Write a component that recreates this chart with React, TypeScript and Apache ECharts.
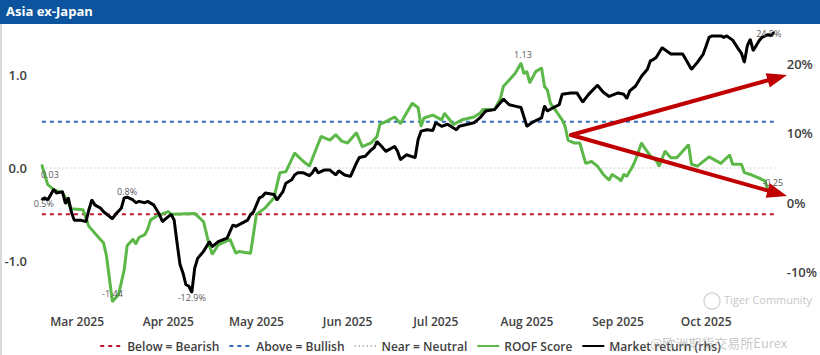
import React, { useEffect, useRef } from 'react';
import * as echarts from 'echarts';

// ---------- DATA ----------
const roofDates = [
  '2025-02-17','2025-02-19','2025-02-21','2025-02-24','2025-02-25','2025-02-27',
  '2025-03-03','2025-03-04','2025-03-05','2025-03-08','2025-03-10','2025-03-11','2025-03-12','2025-03-13','2025-03-15','2025-03-16','2025-03-17','2025-03-18','2025-03-20','2025-03-21','2025-03-22','2025-03-24','2025-03-25','2025-03-26','2025-03-28',
  '2025-04-01','2025-04-02','2025-04-10','2025-04-11','2025-04-13','2025-04-15','2025-04-16','2025-04-18','2025-04-22','2025-04-24','2025-04-25','2025-04-29',
  '2025-05-01','2025-05-04','2025-05-07','2025-05-08','2025-05-09','2025-05-11','2025-05-14','2025-05-17','2025-05-19','2025-05-23','2025-05-26','2025-05-28','2025-05-30',
  '2025-06-01','2025-06-04','2025-06-06','2025-06-09','2025-06-11','2025-06-12','2025-06-14','2025-06-17','2025-06-19','2025-06-23','2025-06-25','2025-06-26','2025-06-27','2025-06-30',
  '2025-07-03','2025-07-04','2025-07-07','2025-07-10','2025-07-14','2025-07-16','2025-07-17','2025-07-21','2025-07-23','2025-07-24','2025-07-26','2025-07-28','2025-07-30','2025-07-31',
  '2025-08-01','2025-08-02','2025-08-04','2025-08-06','2025-08-07','2025-08-08','2025-08-09','2025-08-11','2025-08-13','2025-08-14','2025-08-15','2025-08-17','2025-08-19','2025-08-20','2025-08-21','2025-08-23','2025-08-25','2025-08-27','2025-08-29','2025-08-30',
  '2025-09-01','2025-09-02','2025-09-03','2025-09-04','2025-09-06','2025-09-07','2025-09-09','2025-09-10','2025-09-12','2025-09-14','2025-09-15','2025-09-17','2025-09-19','2025-09-21','2025-09-25','2025-09-26','2025-09-28',
  '2025-10-02','2025-10-06','2025-10-09','2025-10-10','2025-10-13','2025-10-14','2025-10-16','2025-10-19','2025-10-21','2025-10-22','2025-10-24',
];
const roofValues = [
  0.03, -0.18, -0.23, -0.27, -0.32, -0.44,
  -0.45, -0.54, -0.63, -0.74, -0.81, -0.95, -1.2, -1.44, -1.37, -1.24, -1.1, -0.84, -0.77, -0.82, -0.75, -0.72, -0.66, -0.56, -0.52,
  -0.47, -0.5, -0.49, -0.52, -0.58, -0.84, -0.93, -0.83, -0.77, -0.92, -0.9, -0.92,
  -0.5, -0.43, -0.32, -0.18, -0.05, -0.04, 0.16, 0.07, 0.02, 0.34, 0.3, 0.36, 0.29,
  0.27, 0.38, 0.23, 0.27, 0.34, 0.47, 0.5, 0.55, 0.48, 0.7, 0.65, 0.45, 0.54, 0.57,
  0.52, 0.59, 0.47, 0.52, 0.55, 0.59, 0.63, 0.63, 0.75, 0.88, 0.95, 1.02, 1.13, 1.02,
  1.04, 0.92, 1.04, 1.08, 0.88, 0.84, 0.7, 0.61, 0.52, 0.45, 0.3, 0.27, 0.27, 0.16, 0.05, 0.07, 0.02, -0.07, -0.13, -0.07,
  -0.11, -0.14, -0.07, -0.09, 0.02, 0.09, 0.27, 0.22, 0.13, 0.08, 0.02, 0.18, 0.11, 0.11, 0.25, 0.04, 0.02,
  0.12, 0.05, 0.14, 0.04, 0.04, -0.05, -0.07, -0.11, -0.14, -0.24, -0.25,
];

const marketDates = [
  '2025-02-17','2025-02-18','2025-02-19','2025-02-21','2025-02-22','2025-02-24','2025-02-25','2025-02-26','2025-02-27','2025-02-28',
  '2025-03-02','2025-03-04','2025-03-05','2025-03-06','2025-03-07','2025-03-09','2025-03-10','2025-03-13','2025-03-14','2025-03-16','2025-03-17','2025-03-18','2025-03-20','2025-03-21','2025-03-22','2025-03-24','2025-03-25','2025-03-27','2025-03-29','2025-03-30',
  '2025-04-01','2025-04-02','2025-04-03','2025-04-04','2025-04-05','2025-04-06','2025-04-07','2025-04-08','2025-04-09','2025-04-10','2025-04-11','2025-04-13','2025-04-15','2025-04-16','2025-04-18','2025-04-21','2025-04-23','2025-04-24','2025-04-28','2025-04-29','2025-04-30',
  '2025-05-02','2025-05-03','2025-05-04','2025-05-07','2025-05-08','2025-05-10','2025-05-11','2025-05-13','2025-05-14','2025-05-15','2025-05-17','2025-05-19','2025-05-20','2025-05-21','2025-05-22','2025-05-24','2025-05-26','2025-05-28','2025-05-29','2025-05-31',
  '2025-06-02','2025-06-04','2025-06-05','2025-06-07','2025-06-09','2025-06-10','2025-06-11','2025-06-13','2025-06-14','2025-06-17','2025-06-18','2025-06-19','2025-06-21','2025-06-24','2025-06-25','2025-06-26','2025-06-28','2025-06-30',
  '2025-07-01','2025-07-03','2025-07-05','2025-07-08','2025-07-09','2025-07-14','2025-07-16','2025-07-18','2025-07-21','2025-07-22','2025-07-24','2025-07-26','2025-07-28','2025-07-30',
  '2025-08-01','2025-08-03','2025-08-06','2025-08-07','2025-08-08','2025-08-10','2025-08-12','2025-08-13','2025-08-16','2025-08-18','2025-08-20','2025-08-22','2025-08-25','2025-08-27','2025-08-29',
  '2025-09-01','2025-09-03','2025-09-04','2025-09-05','2025-09-07','2025-09-09','2025-09-11','2025-09-12','2025-09-13','2025-09-14','2025-09-16','2025-09-19','2025-09-23','2025-09-26','2025-09-28','2025-09-30',
  '2025-10-01','2025-10-02','2025-10-03','2025-10-06','2025-10-07','2025-10-08','2025-10-10','2025-10-12','2025-10-13','2025-10-14','2025-10-15','2025-10-16','2025-10-17','2025-10-18','2025-10-19','2025-10-20','2025-10-22','2025-10-23','2025-10-24',
];
const marketValues = [
  0.5, 0.7, 0.4, 1.9, 1.4, 1.6, -0.1, 0.7, -1.3, -2.5,
  -2.5, -2.7, -1.0, 0.4, -0.3, -0.8, -1.3, -2.3, -1.7, -0.8, 0.7, 0.8, 0.4, 0.0, 0.2, 0.0, 0.2, -0.3, -1.7, -2.7,
  -2.0, -1.7, -2.5, -5.8, -8.9, -10.1, -11.8, -12.0, -12.9, -9.4, -8.0, -7.0, -5.6, -6.3, -5.6, -5.1, -3.2, -3.4, -2.5, -1.7, -1.3,
  0.7, 0.9, 1.4, 1.2, 0.4, 1.6, 2.8, 3.3, 4.0, 4.3, 4.3, 3.9, 4.3, 5.0, 4.3, 4.7, 4.7, 4.0, 4.6, 4.0,
  3.8, 5.7, 6.5, 6.7, 7.6, 7.9, 8.8, 7.9, 7.4, 8.1, 7.4, 6.2, 6.9, 6.5, 9.1, 10.3, 10.5, 10.4,
  11.5, 11.0, 11.3, 10.5, 11.0, 11.5, 12.2, 13.2, 13.4, 13.9, 14.9, 14.1, 13.9, 13.7,
  11.0, 11.6, 12.2, 13.9, 13.2, 13.7, 14.1, 15.6, 15.8, 15.8, 14.5, 15.6, 16.9, 15.9, 15.3,
  15.8, 15.6, 15.0, 16.1, 16.8, 18.2, 19.2, 20.4, 20.6, 20.9, 22.3, 21.4, 21.4, 19.2, 20.2, 21.4,
  22.6, 23.8, 24.0, 24.0, 23.8, 24.0, 23.4, 22.1, 21.5, 20.2, 22.6, 23.5, 21.9, 22.6, 23.3, 23.8, 24.2, 24.0, 24.5,
];

const refDates = ['2025-02-17', '2025-10-24'];
const bearishLevel = -0.5;
const bullishLevel = 0.5;
const neutralLevel = 0;

const seriesNames = ['Below = Bearish', 'Above = Bullish', 'Near = Neutral', 'ROOF Score', 'Market return (rhs)'];
const monthNames = ['Jan', 'Feb', 'Mar', 'Apr', 'May', 'Jun', 'Jul', 'Aug', 'Sep', 'Oct', 'Nov', 'Dec'];

const roofLabels = [
  { date: '2025-02-17', text: '0.03' },
  { date: '2025-03-13', text: '-1.44' },
  { date: '2025-07-30', text: '1.13' },
  { date: '2025-10-24', text: '-0.25' },
];
const marketLabels = [
  { date: '2025-02-17', text: '0.5%' },
  { date: '2025-03-18', text: '0.8%' },
  { date: '2025-04-09', text: '-12.9%' },
  { date: '2025-10-24', text: '24.5%' },
];

// ---------- STYLE ----------
const FONT = "'Open Sans', 'Noto Sans', sans-serif";
const labelPlacement: Record<string, any> = {
  '0.03': { position: 'bottom', distance: 4, offset: [8, 0] },
  '-1.44': { position: 'top', distance: 2, offset: [0, 0] },
  '1.13': { position: 'top', distance: 3, offset: [2, 0] },
  '-0.25': { position: 'top', distance: 3, offset: [-1, 0] },
  '0.5%': { position: 'inside', offset: [2, 4] },
  '0.8%': { position: 'top', distance: 0, offset: [0, 0] },
  '-12.9%': { position: 'inside', offset: [0, 5] },
  '24.5%': { position: 'inside', offset: [-5, 1] },
};

function buildData(dates: string[], values: number[], labels: { date: string; text: string }[]) {
  return dates.map((d, i) => {
    const lab = labels.find((l) => l.date === d);
    const item: any = { value: [d, values[i]] };
    if (lab) {
      const p = labelPlacement[lab.text] || {};
      item.label = {
        show: true,
        formatter: lab.text,
        fontSize: 9,
        color: '#595959',
        fontFamily: FONT,
        ...p,
      };
    }
    return item;
  });
}

function arrow(x1: number, y1: number, x2: number, y2: number, color: string) {
  const dx = x2 - x1;
  const dy = y2 - y1;
  const len = Math.sqrt(dx * dx + dy * dy);
  const ux = dx / len;
  const uy = dy / len;
  const headLen = 20;
  const headHalf = 7.5;
  const bx = x2 - ux * headLen;
  const by = y2 - uy * headLen;
  const nx = -uy;
  const ny = ux;
  return [
    {
      type: 'line',
      z: 100,
      shape: { x1, y1, x2: bx + ux * 2, y2: by + uy * 2 },
      style: { stroke: color, lineWidth: 4, lineCap: 'round' },
    },
    {
      type: 'polygon',
      z: 100,
      shape: {
        points: [
          [x2, y2],
          [bx + nx * headHalf, by + ny * headHalf],
          [bx - nx * headHalf, by - ny * headHalf],
        ],
      },
      style: { fill: color },
    },
  ];
}

export default function App() {
  const ref = useRef<HTMLDivElement>(null);

  useEffect(() => {
    if (!ref.current) return;
    const chart = echarts.init(ref.current, undefined, { renderer: 'svg' });

    const refLine = (name: string, level: number, color: string, width: number, dash: any) => ({
      name,
      type: 'line',
      yAxisIndex: 0,
      symbol: 'none',
      silent: true,
      z: 1,
      lineStyle: { color, width, type: dash },
      itemStyle: { color },
      data: refDates.map((d) => [d, level]),
    });

    const dataLine = (name: string, axis: number, color: string, z: number, data: any[]) => ({
      name,
      type: 'line',
      yAxisIndex: axis,
      symbol: 'circle',
      symbolSize: 2,
      showSymbol: true,
      showAllSymbol: true,
      z,
      lineStyle: { color, width: 3 },
      itemStyle: { color },
      label: { show: false },
      data,
    });

    const option: any = {
      animation: false,
      backgroundColor: '#ffffff',
      textStyle: { fontFamily: FONT },
      grid: { left: 36, right: 43, top: 29, bottom: 48 },
      legend: {
        data: seriesNames,
        top: 335,
        left: 'center',
        itemWidth: 22,
        itemHeight: 10,
        itemGap: 9,
        itemStyle: { opacity: 0 },
        textStyle: { fontSize: 12, fontWeight: 600, color: '#404040', fontFamily: FONT },
      },
      xAxis: {
        type: 'time',
        min: '2025-02-15',
        max: '2025-10-25',
        splitNumber: 8,
        axisLine: { show: false },
        axisTick: { show: false },
        splitLine: { show: false },
        axisLabel: {
          fontSize: 12,
          fontWeight: 600,
          color: '#404040',
          margin: 8,
          formatter: (v: number) => {
            const d = new Date(v);
            return monthNames[d.getMonth()] + ' ' + d.getFullYear();
          },
        },
      },
      yAxis: [
        {
          type: 'value',
          min: -1.5,
          max: 1.5,
          splitNumber: 3,
          axisLine: { show: false },
          axisTick: { show: false },
          splitLine: { show: false },
          axisLabel: {
            fontSize: 13,
            fontWeight: 600,
            color: '#404040',
            margin: 9,
            formatter: (v: number) => (Math.abs(v - Math.round(v)) < 1e-6 ? v.toFixed(1) : ''),
          },
        },
        {
          type: 'value',
          min: -15,
          max: 25,
          splitNumber: 4,
          position: 'right',
          axisLine: { show: false },
          axisTick: { show: false },
          splitLine: { show: false },
          axisLabel: {
            fontSize: 13,
            fontWeight: 600,
            color: '#404040',
            margin: 10,
            formatter: (v: number) => (Math.abs(v % 10) < 1e-6 ? v + '%' : ''),
          },
        },
      ],
      series: [
        refLine(seriesNames[0], bearishLevel, '#c0152f', 2, [4, 4]),
        refLine(seriesNames[1], bullishLevel, '#2f6fbf', 2, [4, 4]),
        refLine(seriesNames[2], neutralLevel, '#bfbfbf', 1.2, [1.5, 2.5]),
        dataLine(seriesNames[3], 0, '#5cb848', 3, buildData(roofDates, roofValues, roofLabels)),
        dataLine(seriesNames[4], 1, '#000000', 4, buildData(marketDates, marketValues, marketLabels)),
      ],
      graphic: [
        {
          type: 'rect',
          z: 50,
          shape: { x: 0, y: 0, width: 820, height: 24 },
          style: { fill: '#0c559e' },
        },
        {
          type: 'text',
          z: 51,
          left: 6,
          top: 4,
          style: { text: 'Asia ex-Japan', fill: '#ffffff', font: `bold 13px ${FONT}` },
        },
        {
          type: 'rect',
          z: 50,
          shape: { x: 0, y: 24, width: 2, height: 331 },
          style: { fill: '#d9d9d9' },
        },
        ...arrow(571, 135, 787, 75, '#c00000'),
        ...arrow(571, 135, 787, 196, '#c00000'),
        {
          type: 'circle',
          z: 60,
          shape: { cx: 712, cy: 301, r: 8 },
          style: { fill: 'none', stroke: '#d0d0d0', lineWidth: 1.2 },
        },
        {
          type: 'text',
          z: 60,
          left: 724,
          top: 294,
          style: { text: 'Tiger Community', fill: '#c8c8c8', font: `11px ${FONT}` },
        },
        {
          type: 'text',
          z: 60,
          left: 650,
          top: 336,
          style: { text: '@欧洲期货交易所Eurex', fill: 'rgba(150,150,150,0.55)', font: `13px 'Noto Sans CJK SC', sans-serif` },
        },
      ],
    };

    chart.setOption(option);
    return () => chart.dispose();
  }, []);

  return <div ref={ref} style={{ position: 'fixed', left: 0, top: 0, width: 820, height: 355 }} />;
}
